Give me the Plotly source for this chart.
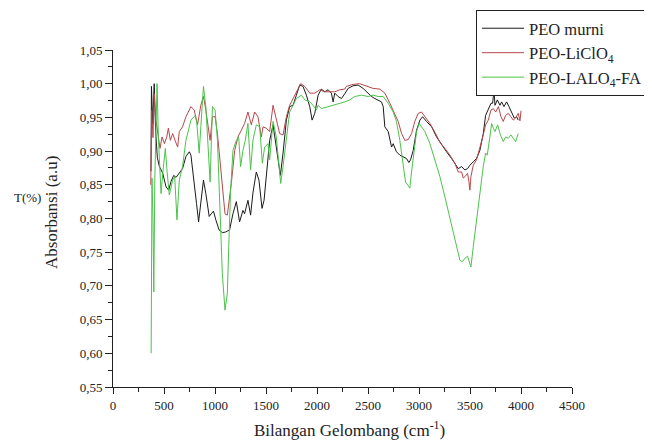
import plotly.graph_objects as go

# ---- data ----
peo_x = [372, 377, 390, 404, 418, 435, 455, 488, 520, 546, 569, 595, 618, 650, 682, 715, 748, 764, 796, 819, 839, 861, 887, 910, 943, 968, 985, 1008, 1040, 1072, 1105, 1143, 1176, 1209, 1241, 1274, 1290, 1323, 1349, 1372, 1405, 1431, 1461, 1481, 1503, 1536, 1569, 1592, 1618, 1641, 1667, 1700, 1732, 1765, 1798, 1830, 1863, 1896, 1929, 1952, 1978, 2011, 2043, 2076, 2109, 2141, 2158, 2174, 2207, 2240, 2272, 2305, 2354, 2403, 2452, 2501, 2534, 2567, 2600, 2632, 2649, 2665, 2698, 2714, 2731, 2747, 2779, 2812, 2845, 2878, 2901, 2917, 2943, 2976, 3009, 3035, 3074, 3124, 3172, 3221, 3270, 3319, 3369, 3385, 3418, 3450, 3476, 3499, 3532, 3564, 3597, 3630, 3653, 3679, 3706, 3722, 3735, 3745, 3768, 3794, 3810, 3833, 3859, 3882, 3908, 3934, 3957, 3973]
peo_y = [0.87, 0.996, 0.94, 1.0, 0.93, 0.89, 0.877, 0.867, 0.847, 0.842, 0.855, 0.864, 0.861, 0.867, 0.874, 0.892, 0.899, 0.894, 0.857, 0.822, 0.795, 0.827, 0.857, 0.837, 0.803, 0.808, 0.811, 0.798, 0.783, 0.779, 0.78, 0.783, 0.807, 0.825, 0.795, 0.812, 0.807, 0.827, 0.805, 0.838, 0.869, 0.857, 0.815, 0.827, 0.867, 0.916, 0.939, 0.916, 0.884, 0.864, 0.897, 0.946, 0.966, 0.968, 0.983, 0.998, 0.996, 0.983, 0.966, 0.946, 0.956, 0.983, 0.992, 0.988, 0.991, 0.986, 0.973, 0.986, 0.981, 0.978, 0.985, 0.993, 0.997, 0.998, 0.993, 0.986, 0.981, 0.978, 0.976, 0.973, 0.966, 0.936, 0.929, 0.916, 0.906, 0.911, 0.899, 0.894, 0.892, 0.889, 0.883, 0.887, 0.901, 0.931, 0.946, 0.951, 0.944, 0.936, 0.921, 0.909, 0.899, 0.889, 0.877, 0.874, 0.877, 0.872, 0.874, 0.879, 0.884, 0.889, 0.901, 0.926, 0.953, 0.961, 0.971, 0.971, 0.991, 0.968, 0.976, 0.968, 0.973, 0.966, 0.973, 0.966, 0.958, 0.949, 0.951, 0.946]

liclo4_x = [370, 380, 392, 404, 416, 439, 461, 481, 504, 527, 543, 562, 585, 608, 634, 650, 682, 715, 764, 796, 829, 861, 887, 910, 933, 952, 975, 1001, 1024, 1050, 1072, 1098, 1121, 1137, 1160, 1193, 1225, 1258, 1290, 1323, 1356, 1389, 1421, 1454, 1471, 1503, 1536, 1569, 1601, 1634, 1667, 1700, 1732, 1765, 1798, 1840, 1880, 1929, 1978, 2027, 2076, 2125, 2174, 2223, 2272, 2288, 2354, 2419, 2485, 2550, 2616, 2665, 2714, 2763, 2796, 2829, 2861, 2894, 2927, 2959, 2992, 3025, 3058, 3107, 3156, 3205, 3254, 3303, 3352, 3385, 3418, 3434, 3450, 3476, 3489, 3499, 3509, 3532, 3564, 3597, 3630, 3653, 3679, 3706, 3729, 3752, 3778, 3804, 3826, 3849, 3875, 3901, 3924, 3947, 3973, 3990, 4000]
liclo4_y = [0.85, 0.96, 0.92, 0.985, 0.951, 0.93, 0.904, 0.921, 0.911, 0.921, 0.934, 0.916, 0.926, 0.916, 0.906, 0.929, 0.936, 0.951, 0.966, 0.961, 0.939, 0.968, 0.981, 0.961, 0.931, 0.916, 0.951, 0.951, 0.926, 0.887, 0.847, 0.807, 0.805, 0.822, 0.852, 0.901, 0.921, 0.931, 0.941, 0.958, 0.939, 0.958, 0.951, 0.921, 0.936, 0.934, 0.929, 0.968, 0.949, 0.926, 0.924, 0.951, 0.968, 0.978, 0.986, 1.0, 0.996, 0.986, 0.986, 0.991, 0.988, 0.988, 0.988, 0.991, 0.992, 0.996, 0.999, 1.0, 0.996, 0.993, 0.992, 0.986, 0.971, 0.956, 0.944, 0.926, 0.916, 0.917, 0.926, 0.944, 0.956, 0.958, 0.951, 0.941, 0.928, 0.913, 0.904, 0.894, 0.882, 0.869, 0.869, 0.86, 0.862, 0.867, 0.855, 0.842, 0.862, 0.879, 0.887, 0.904, 0.924, 0.939, 0.946, 0.961, 0.963, 0.958, 0.966, 0.951, 0.944, 0.953, 0.956, 0.951, 0.946, 0.949, 0.956, 0.945, 0.96]

fa_x = [374, 382, 392, 400, 410, 432, 445, 471, 490, 513, 530, 552, 585, 605, 627, 650, 682, 715, 764, 806, 822, 845, 861, 887, 910, 933, 952, 975, 1001, 1024, 1050, 1072, 1098, 1121, 1137, 1153, 1176, 1209, 1232, 1251, 1274, 1297, 1323, 1349, 1372, 1405, 1438, 1464, 1487, 1520, 1536, 1569, 1601, 1628, 1644, 1667, 1700, 1732, 1765, 1798, 1847, 1880, 1929, 1961, 1994, 2011, 2043, 2109, 2174, 2223, 2272, 2321, 2370, 2436, 2501, 2550, 2600, 2649, 2698, 2747, 2779, 2812, 2845, 2868, 2894, 2910, 2927, 2950, 2976, 3002, 3025, 3058, 3107, 3156, 3205, 3254, 3303, 3352, 3378, 3401, 3424, 3450, 3476, 3489, 3499, 3509, 3532, 3564, 3597, 3630, 3653, 3669, 3695, 3712, 3729, 3745, 3771, 3794, 3826, 3849, 3875, 3901, 3924, 3947, 3973]
fa_y = [0.6, 0.86, 0.8, 0.691, 0.86, 1.0, 0.92, 0.837, 0.87, 0.904, 0.87, 0.835, 0.857, 0.862, 0.798, 0.857, 0.877, 0.916, 0.946, 0.953, 0.941, 0.897, 0.936, 0.996, 0.966, 0.901, 0.854, 0.966, 0.961, 0.916, 0.817, 0.718, 0.664, 0.689, 0.768, 0.842, 0.901, 0.916, 0.921, 0.877, 0.901, 0.916, 0.941, 0.872, 0.916, 0.939, 0.936, 0.882, 0.906, 0.911, 0.887, 0.944, 0.921, 0.872, 0.852, 0.877, 0.921, 0.958, 0.968, 0.978, 0.983, 0.976, 0.973, 0.968, 0.961, 0.968, 0.963, 0.966, 0.968, 0.971, 0.973, 0.976, 0.981, 0.983, 0.981, 0.983, 0.981, 0.981, 0.971, 0.958, 0.944, 0.916, 0.882, 0.854, 0.849, 0.845, 0.869, 0.901, 0.929, 0.941, 0.936, 0.929, 0.911, 0.887, 0.862, 0.832, 0.802, 0.768, 0.753, 0.738, 0.736, 0.741, 0.744, 0.736, 0.733, 0.728, 0.758, 0.798, 0.837, 0.877, 0.897, 0.894, 0.921, 0.941, 0.934, 0.929, 0.939, 0.926, 0.914, 0.921, 0.919, 0.924, 0.919, 0.914, 0.926]

series_names = ["PEO murni", "PEO-LiClO<sub>4</sub>", "PEO-LALO<sub>4</sub>-FA"]
series_colors = ["#1a1a1a", "#b8474b", "#4cc24c"]

y_tick_vals = [0.55, 0.60, 0.65, 0.70, 0.75, 0.80, 0.85, 0.90, 0.95, 1.00, 1.05]
y_tick_text = ["0,55", "0,60", "0,65", "0,70", "0,75", "0,80", "0,85", "0,90", "0,95", "1,00", "1,05"]
x_tick_vals = [0, 500, 1000, 1500, 2000, 2500, 3000, 3500, 4000, 4500]

FONT = "Liberation Serif, Times New Roman, serif"

# page body has an 8px margin: lay the figure out so the plot lands where the reference has it
OFF = 8
W, H = 652 - OFF, 441 - OFF
ML, MR, MT, MB = 105, 80, 42, 54
pl, pr, pt, pb = ML, W - MR, MT, H - MB


def to_paper(sx, sy):
    fx, fy = sx - OFF, sy - OFF
    return (fx - pl) / (pr - pl), (pb - fy) / (pb - pt)


fig = go.Figure()
for xs, ys, name, col in zip([peo_x, liclo4_x, fa_x], [peo_y, liclo4_y, fa_y], series_names, series_colors):
    fig.add_trace(go.Scatter(x=xs, y=ys, mode="lines", name=name,
                             line=dict(color=col, width=1)))

lx, ly = to_paper(476, 10)
annots = []
for text, sx, sy, size, angle in [
    ("Absorbansi (a.u)", 52, 212, 17, -90),
    ("T(%)", 27, 197, 13, 0),
    ("Bilangan Gelombang (cm<sup>-1</sup>)", 349, 429, 17, 0),
]:
    ax, ay = to_paper(sx, sy)
    annots.append(dict(text=text, x=ax, y=ay, xref="paper", yref="paper", showarrow=False,
                       xanchor="center", yanchor="middle", textangle=angle,
                       font=dict(family=FONT, size=size, color="#222")))

fig.update_layout(
    width=W, height=H,
    margin=dict(l=ML, r=MR, t=MT, b=MB, autoexpand=False),
    paper_bgcolor="white", plot_bgcolor="white",
    font=dict(family=FONT, size=13, color="#222"),
    showlegend=True,
    legend=dict(x=lx, y=ly, xanchor="left", yanchor="top",
                bordercolor="#222", borderwidth=1, bgcolor="white",
                font=dict(family=FONT, size=16.5, color="#222"),
                tracegroupgap=0, itemwidth=42),
    xaxis=dict(range=[0, 4500], tickvals=x_tick_vals, showgrid=False, zeroline=False,
               showline=True, linecolor="#222", linewidth=1,
               ticks="outside", ticklen=6, tickcolor="#222",
               minor=dict(ticks="outside", ticklen=4, dtick=250, tickcolor="#222", showgrid=False)),
    yaxis=dict(range=[0.55, 1.05], tickvals=y_tick_vals, ticktext=y_tick_text,
               showgrid=False, zeroline=False,
               showline=True, linecolor="#222", linewidth=1,
               ticks="outside", ticklen=7, tickcolor="#222",
               minor=dict(ticks="outside", ticklen=4, tickvals=[v + 0.025 for v in y_tick_vals[:-1]],
                          tickcolor="#222", showgrid=False)),
    annotations=annots,
)

fig.write_html("out.html")
